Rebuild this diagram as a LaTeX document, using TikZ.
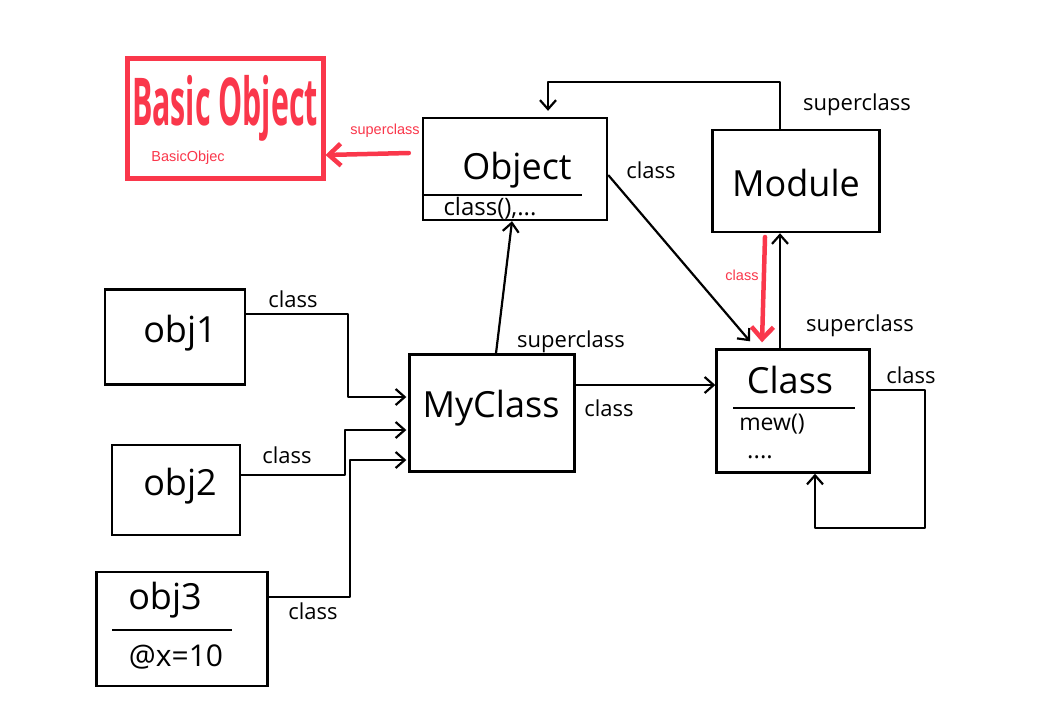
\documentclass[tikz,border=0pt]{standalone}
\usepackage{fontspec}
\setmainfont{Open Sans}
\newfontfamily\labfont{Liberation Sans}
\usetikzlibrary{arrows.meta}
\definecolor{hred}{RGB}{250,55,75}
\tikzset{
  box/.style={draw, line width=2.4pt, inner sep=0pt},
  conn/.style={line width=2.2pt, line join=round, -{Straight Barb[length=9pt,width=16pt,line width=2.2pt]}},
  plain/.style={line width=2.2pt, line join=round},
  redconn/.style={hred, line width=4.5pt, line cap=round, -{Straight Barb[length=12pt,width=22pt,line width=4.5pt]}},
  big/.style={font=\fontsize{36}{40}\selectfont},
  mid/.style={font=\fontsize{24}{28}\selectfont},
  lab/.style={font=\fontsize{22}{26}\selectfont},
  redlab/.style={text=hred, font=\labfont\fontsize{14.5}{17}\selectfont},
}
\begin{document}
\begin{tikzpicture}[x=1pt,y=-1pt]
\useasboundingbox[fill=white] (0,0) rectangle (1064,705);

% boxes
\node[box, draw=hred, line width=5pt, minimum width=196pt, minimum height=120pt] (bo) at (225,118) {};
\node[box, minimum width=184pt, minimum height=102pt] (obj) at (515,169) {};
\node[box, minimum width=167pt, minimum height=102pt] (mod) at (796,181) {};
\node[box, minimum width=153pt, minimum height=123pt] (cls) at (793,411) {};
\node[box, minimum width=165pt, minimum height=117pt] (my) at (492,413) {};
\node[box, minimum width=140pt, minimum height=95pt] (o1) at (175,337) {};
\node[box, minimum width=128pt, minimum height=90pt] (o2) at (176,490) {};
\node[box, minimum width=171pt, minimum height=114pt] (o3) at (182,629) {};

% texts in boxes
\node[text=hred, font=\bfseries\fontsize{66}{70}\selectfont] (botxt) at (225,108) {\scalebox{0.46}[1]{Basic Object}};
\node[redlab] (bosmall) at (188,158) {BasicObjec};
\node[big] (objtxt) at (517,170) {Object};
\node[mid] (objm) at (490,208) {class(),...};
\node[big] (modtxt) at (796,183) {Module};
\node[big] (clstxt) at (790,380) {Class};
\node[font=\fontsize{23}{26}\selectfont, inner sep=0pt] (clsm) at (772,424) {mew()};
\node[mid, inner sep=0pt, text height=4pt, text depth=0pt] (clsd) at (760,456) {....};
\node[big] (mytxt) at (491,408) {MyClass};
\node[big] (o1txt) at (180,333) {obj1};
\node[big] (o2txt) at (180,486) {obj2};
\node[big] (o3txt) at (165,600) {obj3};
\node[font=\fontsize{30}{34}\selectfont] (o3m) at (176,657) {@x=10};

% dividers
\draw[plain] (obj.west |- 0,195) -- (582,195);
\draw[plain] (733,408) -- (855,408);
\draw[plain] (112,630) -- (232,630);

% coordinates for bends
\coordinate (mtop) at (780,82);
\coordinate (otop) at (548,82);
\coordinate (redstart) at (765,237);

% connectors
\draw[redconn] ([xshift=-13pt]obj.west |- 0,153) -- (bo.east |- 0,155);
\draw[conn] (mod.north -| mtop) -- (mtop) -- (otop) -- ([yshift=6pt]obj.north -| otop);
\draw[conn] (obj.east |- 0,175) -- ([yshift=7pt]cls.north -| 750,0);
\draw[redconn] (redstart) -- ([yshift=6pt]cls.north -| 762,0);
\draw[conn] (cls.north -| 780,0) -- (mod.south -| 780,0);
\draw[conn] (my.north -| 496,0) -- (obj.south -| 512,0);
\draw[conn] (my.east |- 0,385) -- (cls.west |- 0,385);
\draw[conn] (cls.east |- 0,390) -| (925,528) -| (cls.south -| 815,0);
\draw[conn] (o1.east |- 0,314) -| (348,397) -- ([xshift=-2pt]my.west |- 0,397);
\draw[conn] (o2.east |- 0,475) -| (345,430) -- ([xshift=-2pt]my.west |- 0,430);
\draw[conn] (o3.east |- 0,597) -| (350,460) -- ([xshift=-2pt]my.west |- 0,460);

% labels
\node[redlab] (l1) at (385,131) {superclass};
\node[redlab] (l2) at (742,275) {class};
\node[lab] (l3) at (293,299) {class};
\node[lab] (l4) at (287,455) {class};
\node[lab] (l5) at (313,611) {class};
\node[lab] (l6) at (571,342) {superclass};
\node[lab] (l7) at (609,408) {class};
\node[lab] (l8) at (651,170) {class};
\node[lab] (l9) at (857,105) {superclass};
\node[lab] (l10) at (860,326) {superclass};
\node[lab] (l11) at (911,375) {class};
\end{tikzpicture}
\end{document}
